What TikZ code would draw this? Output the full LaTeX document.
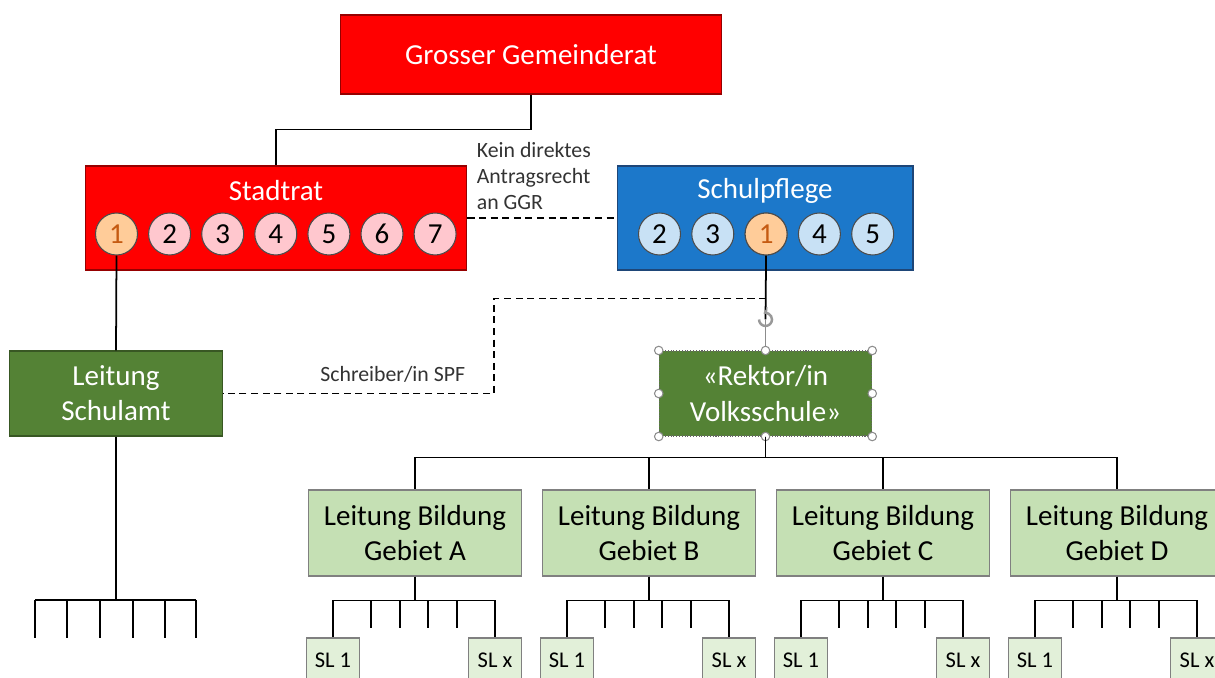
\documentclass[tikz,border=0pt]{standalone}
\usepackage{fontspec}
\setmainfont{Carlito}
\usetikzlibrary{calc,arrows.meta}
\definecolor{ggrred}{RGB}{255,0,0}
\definecolor{redline}{RGB}{150,0,0}
\definecolor{spfblue}{RGB}{28,120,202}
\definecolor{blueline}{RGB}{30,70,120}
\definecolor{darkgreen}{RGB}{84,130,53}
\definecolor{greenline}{RGB}{56,87,35}
\definecolor{midgreen}{RGB}{197,224,180}
\definecolor{palegreen}{RGB}{226,240,217}
\definecolor{pinkdot}{RGB}{255,199,206}
\definecolor{bluedot}{RGB}{200,225,245}
\definecolor{orangedot}{RGB}{255,204,153}
\definecolor{orangetext}{RGB}{197,90,17}
\begin{document}
\begin{tikzpicture}[x=0.02cm,y=-0.02cm,line width=1pt,
    box/.style={rectangle,inner sep=0pt,align=center,text=white,
      font=\fontsize{16.5}{20}\selectfont},
    redbox/.style={box,draw=redline,line width=0.6pt,fill=ggrred},
    bluebox/.style={box,draw=blueline,line width=0.6pt,fill=spfblue},
    greenbox/.style={box,draw=greenline,line width=0.6pt,fill=darkgreen,
      minimum width=4.25cm,minimum height=1.7cm},
    areabox/.style={box,draw=black!50,line width=0.6pt,fill=midgreen,text=black,
      minimum width=4.26cm,minimum height=1.72cm},
    slbox/.style={box,draw=black!50,line width=0.6pt,fill=palegreen,text=black,
      minimum width=1.06cm,minimum height=0.88cm,font=\fontsize{12.8}{15}\selectfont},
    member/.style={circle,draw=black!70,line width=0.6pt,inner sep=0pt,
      minimum size=0.84cm,font=\fontsize{16.5}{20}\selectfont},
    handle/.style={circle,draw=black!45,line width=0.6pt,fill=white,
      inner sep=0pt,minimum size=0.17cm},
    link/.style={dash pattern=on 4pt off 2.6pt},
    note/.style={font=\fontsize{12.4}{14.8}\selectfont,text=black!80,inner sep=0pt}]
  \useasboundingbox (0,0) rectangle (1215,678);
  \clip (0,0) rectangle (1215,678);

  % top level
  \node[redbox,minimum width=7.64cm,minimum height=1.58cm] (ggr) at (531,54.5) {Grosser Gemeinderat};
  \node[redbox,minimum width=7.64cm,minimum height=2.08cm] (stadtrat) at (276,218) {};
  \node[box] (stadtratT) at (276,191) {Stadtrat};
  \node[bluebox,minimum width=5.92cm,minimum height=2.08cm] (spf) at (765,218) {};
  \node[box] (spfT) at (765,191) {Schulpflege};

  % members
  \node[member,fill=orangedot,text=orangetext] (sr1) at (116.5,234) {1};
  \foreach \i in {2,...,7}
    \node[member,fill=pinkdot] (sr\i) at ({116.5+53.1*(\i-1)},234) {\i};
  \foreach \n/\k in {2/0,3/1,1/2,4/3,5/4}
    \node[member,fill=bluedot] (sp\n) at ({659.5+53.3*\k},234) {\n};
  \node[member,fill=orangedot,text=orangetext] at (sp1) {1};

  \draw (ggr.south) -- ++(0,35) -| (stadtrat.north);
  \draw[link] (stadtrat.east) -- (spf.west);
  \node[note,anchor=north west,align=left] (kein) at (476,141) {Kein direktes\\Antragsrecht\\an GGR};

  % second level
  \node[greenbox] (schulamt) at (116,393.5) {Leitung\\Schulamt};
  \node[greenbox,draw=black!60,densely dotted] (rektor) at (765.5,393.5) {«Rektor/in\\Volksschule»};
  \draw (sr1.south) -- (schulamt.north);
  \coordinate (tap) at ($(sp1.south)+(0,43)$);
  \coordinate (rot) at ($(rektor.north)+(0,-31)$);
  \draw (sp1.south) -- (rot);
  \draw[black!45] (rot) -- (rektor.north);
  \draw[link] (tap) -- ++(-272,0) |- (schulamt.east);
  \node[note,anchor=base east] (schreiber) at (466,382) {Schreiber/in SPF};

  % selection handles
  \draw[black!40,line width=1.4pt,-{Stealth[length=3.5pt,width=5pt]}]
    ($(rot)+(-6.5,0)$) arc[start angle=180,end angle=-110,radius=6.5];
  \foreach \a in {north west,north,north east,west,east,south west,south,south east}
    \node[handle] at (rektor.\a) {};

  % areas
  \foreach \g/\x in {A/415,B/649,C/883,D/1117} {
    \node[areabox] (lb\g) at (\x,533) {Leitung Bildung\\Gebiet \g};
    \draw (rektor.south) -- ++(0,21) -| (lb\g.north);
    \node[slbox] (sl\g1) at (\x-82,660) {SL 1};
    \node[slbox] (sl\g x) at (\x+80,660) {SL x};
    \draw (lb\g.south) -- ++(0,24) -| (sl\g1.north);
    \draw (lb\g.south) -- ++(0,24) -| (sl\g x.north);
    \foreach \d in {-44,-15,13,42}
      \draw ($(lb\g.south)+(\d,24)$) -- ++(0,27);
  }

  % Schulamt fan
  \draw (schulamt.south) -- ++(0,164) coordinate (fan);
  \draw (35,600) -- (196,600);
  \foreach \x in {35,67,100,133,165,196}
    \draw (\x,600) -- (\x,638);
\end{tikzpicture}
\end{document}
